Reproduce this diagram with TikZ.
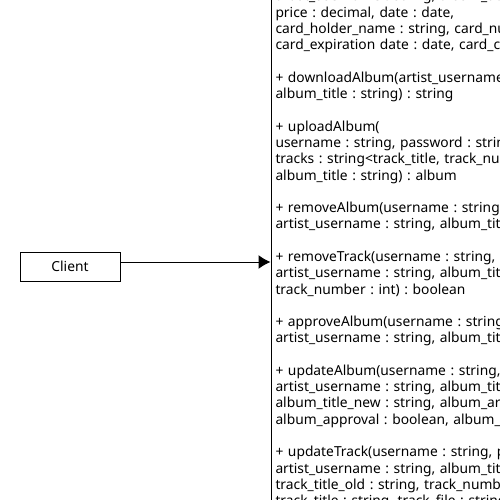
\documentclass[tikz,border=0pt]{standalone}
\usepackage{fontspec}
\setmainfont{Noto Sans}
\usetikzlibrary{arrows.meta, positioning}
\tikzset{>={Latex[length=12pt,width=14pt]}}
\tikzset{classbox/.style={draw, line width=1pt, font=\fontsize{13.8}{16.28}\selectfont\frenchspacing}}

\begin{document}
\begin{tikzpicture}[x=1pt, y=-1pt]
	\useasboundingbox (0,0) rectangle (500,500);
	\clip (0,0) rectangle (500,500);
	% client
	\node[classbox, minimum width=100pt, minimum height=29pt, inner sep=0pt] (client) at (70, 266.5) {Client};
	% server class, operations
	\node[classbox, anchor=north west, align=left, text width=500pt, inner sep=4.5pt] (server) at (270.5, -14.5) {%
		artist\_username : string, album\_title : string,\\
		price : decimal, date : date,\\
		card\_holder\_name : string, card\_number : string,\\
		card\_expiration date : date, card\_cvc : string) : boolean\\[16.28pt]
		+ downloadAlbum(artist\_username : string,\\
		album\_title : string) : string\\[16.28pt]
		+ uploadAlbum(\\
		username : string, password : string,\\
		tracks : string<track\_title, track\_number, track\_file>,\\
		album\_title : string) : album\\[16.28pt]
		+ removeAlbum(username : string, password : string,\\
		artist\_username : string, album\_title : string) : boolean\\[16.28pt]
		+ removeTrack(username : string, password : string,\\
		artist\_username : string, album\_title : string,\\
		track\_number : int) : boolean\\[16.28pt]
		+ approveAlbum(username : string, password : string,\\
		artist\_username : string, album\_title : string) : boolean\\[16.28pt]
		+ updateAlbum(username : string, password : string,\\
		artist\_username : string, album\_title\_old : string,\\
		album\_title\_new : string, album\_art : string,\\
		album\_approval : boolean, album\_status : string) : boolean\\[16.28pt]
		+ updateTrack(username : string, password : string,\\
		artist\_username : string, album\_title : string,\\
		track\_title\_old : string, track\_number : int,\\
		track\_title : string, track\_file : string) : boolean};
	% call
	\draw[->, line width=1pt] ([yshift=4.5pt]client.east) -- ([yshift=4.5pt]client.east -| server.west);
\end{tikzpicture}
\end{document}
